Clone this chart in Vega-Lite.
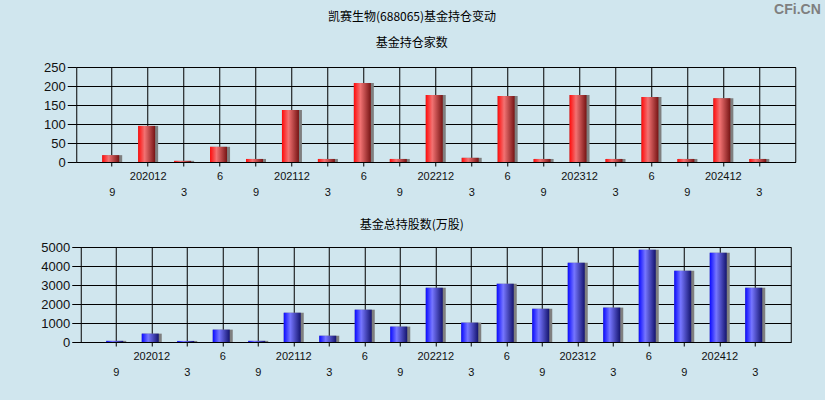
{
  "$schema": "https://vega.github.io/schema/vega-lite/v6.json",
  "background": "#d0e6ee",
  "padding": {"left": 40, "top": 2, "right": 5, "bottom": 22},
  "title": {
    "text": "CFi.CN",
    "anchor": "end",
    "font": "Liberation Sans",
    "fontSize": 14,
    "fontWeight": "bold",
    "color": "#7f7f7f",
    "offset": -6,
    "dx": 25
  },
  "config": {
    "view": {"stroke": "#000", "strokeWidth": 1},
    "title": {"font": "Noto Sans CJK SC", "fontSize": 12, "fontWeight": "normal", "color": "#000", "anchor": "middle"},
    "axis": {
      "labelFont": "Liberation Sans",
      "labelColor": "#111",
      "grid": true,
      "gridColor": "#000",
      "gridOpacity": 1,
      "tickColor": "#000",
      "domainColor": "#000",
      "labelOverlap": false,
      "labelBound": false
    },
    "axisX": {
      "labelFontSize": 11,
      "tickSize": 4,
      "labelPadding": 4,
      "labelAngle": 0,
      "labelLineHeight": 16,
      "bandPosition": 0.5
    },
    "axisY": {"labelFontSize": 13, "tickSize": 9, "labelPadding": 2, "domain": false, "format": "d"}
  },
  "data": {
    "values": [
      {"q": "202009", "funds": 18, "shares": 60},
      {"q": "202012", "funds": 95, "shares": 440},
      {"q": "202103", "funds": 3, "shares": 55},
      {"q": "202106", "funds": 40, "shares": 650},
      {"q": "202109", "funds": 8, "shares": 60},
      {"q": "202112", "funds": 137, "shares": 1540},
      {"q": "202203", "funds": 8, "shares": 330},
      {"q": "202206", "funds": 208, "shares": 1700},
      {"q": "202209", "funds": 8, "shares": 810},
      {"q": "202212", "funds": 176, "shares": 2860},
      {"q": "202303", "funds": 11, "shares": 1020},
      {"q": "202306", "funds": 174, "shares": 3070},
      {"q": "202309", "funds": 8, "shares": 1750},
      {"q": "202312", "funds": 176, "shares": 4170},
      {"q": "202403", "funds": 8, "shares": 1810},
      {"q": "202406", "funds": 171, "shares": 4860},
      {"q": "202409", "funds": 8, "shares": 3750},
      {"q": "202412", "funds": 168, "shares": 4700},
      {"q": "202503", "funds": 8, "shares": 2860}
    ]
  },
  "vconcat": [
    {
      "title": {"text": "凯赛生物(688065)基金持仓变动", "anchor": "middle", "dx": -6, "offset": 13},
      "spacing": 20,
      "center": true,
      "vconcat": [
        {
          "title": {"text": "基金持仓家数", "dx": -24, "offset": 11},
          "width": 719,
          "height": 95,
          "encoding": {
            "x": {
              "field": "q",
              "type": "ordinal",
              "sort": null,
              "scale": {"paddingInner": 0, "paddingOuter": 0.5},
              "axis": {
                "title": null,
                "labelExpr": "slice(datum.value,4)=='12' ? datum.value : slice(datum.value,4)=='06' ? '6' : ['', slice(datum.value,4)=='09' ? '9' : '3']"
              }
            },
            "y": {
              "field": "funds",
              "type": "quantitative",
              "scale": {"domain": [0, 250]},
              "axis": {"title": null, "values": [0, 50, 100, 150, 200, 250]}
            }
          },
          "layer": [
            {"mark": {"type": "bar", "width": 20, "color": "#7f7f7f"}},
            {
              "mark": {
                "type": "bar",
                "width": 17,
                "xOffset": -1.5,
                "color": {
                  "gradient": "linear",
                  "x1": 0, "y1": 0, "x2": 1, "y2": 0,
                  "stops": [
                    {"offset": 0, "color": "#ff0a0a"},
                    {"offset": 0.38, "color": "#f27272"},
                    {"offset": 1, "color": "#761414"}
                  ]
                }
              }
            }
          ]
        },
        {
          "title": {"text": "基金总持股数(万股)", "dx": -24, "offset": 9},
          "width": 710,
          "height": 95,
          "encoding": {
            "x": {
              "field": "q",
              "type": "ordinal",
              "sort": null,
              "scale": {"paddingInner": 0, "paddingOuter": 0.5},
              "axis": {
                "title": null,
                "labelExpr": "slice(datum.value,4)=='12' ? datum.value : slice(datum.value,4)=='06' ? '6' : ['', slice(datum.value,4)=='09' ? '9' : '3']"
              }
            },
            "y": {
              "field": "shares",
              "type": "quantitative",
              "scale": {"domain": [0, 5000]},
              "axis": {"title": null, "values": [0, 1000, 2000, 3000, 4000, 5000]}
            }
          },
          "layer": [
            {"mark": {"type": "bar", "width": 20, "color": "#7f7f7f"}},
            {
              "mark": {
                "type": "bar",
                "width": 17,
                "xOffset": -1.5,
                "color": {
                  "gradient": "linear",
                  "x1": 0, "y1": 0, "x2": 1, "y2": 0,
                  "stops": [
                    {"offset": 0, "color": "#0a0aff"},
                    {"offset": 0.38, "color": "#7676ff"},
                    {"offset": 1, "color": "#14146e"}
                  ]
                }
              }
            }
          ]
        }
      ]
    }
  ]
}
